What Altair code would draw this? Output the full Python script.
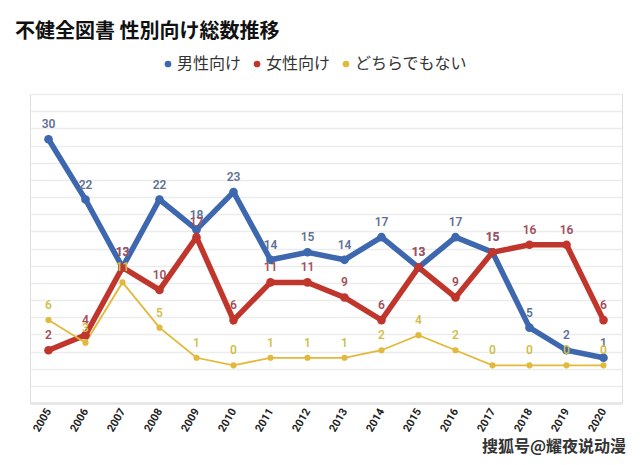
import altair as alt
import pandas as pd

years = [str(y) for y in range(2005, 2021)]
series_names = ["男性向け", "女性向け", "どちらでもない"]
male = [30, 22, 13, 22, 18, 23, 14, 15, 14, 17, 13, 17, 15, 5, 2, 1]
female = [2, 4, 13, 10, 17, 6, 11, 11, 9, 6, 13, 9, 15, 16, 16, 6]
neither = [6, 3, 11, 5, 1, 0, 1, 1, 1, 2, 4, 2, 0, 0, 0, 0]
line_colors = ["#3d67ae", "#c0362c", "#e2b93b"]
label_colors = ["#5f7296", "#a2505c", "#cfbf4c"]
line_widths = [5.5, 5.5, 1.8]
title_text = "不健全図書 性別向け総数推移"
watermark = "搜狐号@耀夜说动漫"

rows = []
for name, vals, lc in zip(series_names, [male, female, neither], label_colors):
    for y, v in zip(years, vals):
        rows.append({"year": y, "series": name, "value": v, "lc": lc})
df = pd.DataFrame(rows)

grid_vals = [-5 + i * 41 / 18 for i in range(19)]

x_enc = alt.X("year:O", scale=alt.Scale(type="point", padding=0.5),
              axis=alt.Axis(title=None, labelAngle=-60, labelAlign="right",
                            labelBaseline="middle", labelFontSize=11,
                            labelFontWeight="bold", labelColor="#222",
                            labelFont="Roboto", labelPadding=6, ticks=False,
                            domainColor="#e4e4e4", domainWidth=2.5, grid=False))
y_enc = alt.Y("value:Q", scale=alt.Scale(domain=[-5, 36], nice=False, zero=False),
              axis=alt.Axis(title=None, values=grid_vals, labels=False, ticks=False,
                            domain=False, grid=True, gridColor="#ececec", gridWidth=1.5))

base = alt.Chart(df)

layers = []
for name, c, w in zip(series_names, line_colors, line_widths):
    layers.append(
        base.transform_filter(alt.datum.series == name)
        .mark_line(color=c, strokeWidth=w)
        .encode(x=x_enc, y=y_enc)
    )

points = base.mark_circle(opacity=1).encode(
    x=x_enc, y=y_enc,
    color=alt.Color("series:N", scale=alt.Scale(domain=series_names, range=line_colors),
                    sort=series_names,
                    legend=alt.Legend(title=None, orient="none", direction="horizontal",
                                      legendX=130, legendY=-38, symbolType="circle",
                                      symbolSize=45, labelFontSize=16, labelColor="#333",
                                      labelFont="Noto Sans CJK JP", columnPadding=7,
                                      labelOffset=1, symbolStrokeWidth=0, symbolOpacity=1)),
    size=alt.condition(alt.datum.series == "どちらでもない", alt.value(38), alt.value(75)),
)

labels = base.mark_text(dy=-15, fontSize=12, fontWeight=600, font="Roboto").encode(
    x=x_enc, y=y_enc,
    text="value:Q",
    color=alt.Color("lc:N", scale=None),
)

wm = alt.Chart(pd.DataFrame({"t": [watermark]})).mark_text(
    align="right", baseline="middle", fontSize=16, fontWeight="bold",
    font="Noto Sans CJK SC", color="#333"
).encode(text="t:N", x=alt.value(596), y=alt.value(353))

chart = alt.layer(*layers, points, labels, wm).properties(
    width=592, height=309,
    title=alt.TitleParams(title_text, anchor="start", fontSize=20, fontWeight="bold",
                          font="Noto Sans CJK JP", color="#111", dx=-15, offset=14,
                          frame="group"),
    autosize=alt.AutoSizeParams(type="none"),
    padding={"left": 22, "top": 86, "right": 10, "bottom": 54},
).resolve_scale(color="independent").configure_view(stroke=None).configure(background="white")

chart.save("out.html", embed_options={"renderer": "svg", "actions": False})
